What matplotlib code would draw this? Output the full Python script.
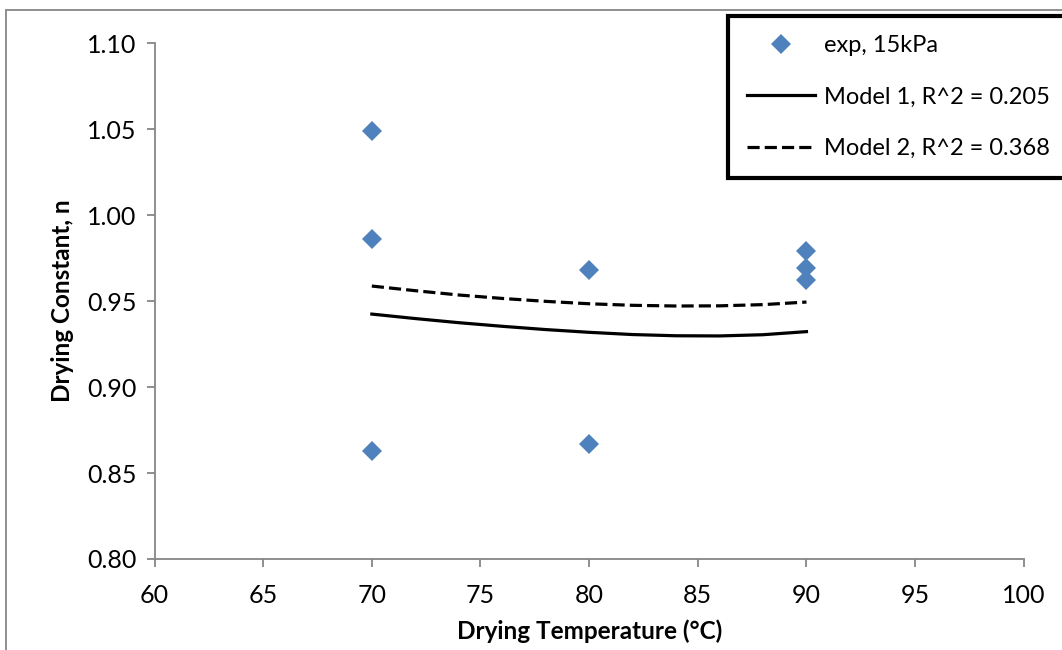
import matplotlib.pyplot as plt
from matplotlib.patches import Rectangle

plt.rcParams['font.family'] = ['Lato', 'DejaVu Sans']

# Datos experimentales (15 kPa)
temp_exp = [70, 70, 70, 80, 80, 90, 90, 90]
n_exp = [1.049, 0.986, 0.863, 0.968, 0.867, 0.979, 0.969, 0.962]

# Curvas de los modelos
temp_model = [70, 72, 74, 76, 78, 80, 82, 84, 86, 88, 90]
model1 = [0.9424, 0.9398, 0.9374, 0.9353, 0.9334, 0.9318, 0.9305, 0.9298, 0.9297, 0.9304, 0.9322]
model2 = [0.9587, 0.9560, 0.9535, 0.9515, 0.9498, 0.9484, 0.9475, 0.9471, 0.9472, 0.9479, 0.9494]

xticks = [60, 65, 70, 75, 80, 85, 90, 95, 100]
yticks = [0.80, 0.85, 0.90, 0.95, 1.00, 1.05, 1.10]

gris = '#868686'
azul = '#4F81BD'

fig = plt.figure(figsize=(10.62, 6.5), dpi=100)
ax = fig.add_axes([0.1455, 0.14, 0.8185, 0.7938])

ax.plot(temp_exp, n_exp, linestyle='none', marker='D', markersize=10,
        color=azul, markeredgewidth=0, label='exp, 15kPa')
ax.plot(temp_model, model1, color='black', lw=2.3, label='Model 1, R^2 = 0.205')
ax.plot(temp_model, model2, color='black', lw=2.3, linestyle=(0, (3.8, 1.6)),
        label='Model 2, R^2 = 0.368')

ax.set_xlim(60, 100)
ax.set_ylim(0.80, 1.10)
ax.set_xticks(xticks)
ax.set_yticks(yticks)
ax.set_xticklabels([str(t) for t in xticks])
ax.set_yticklabels([f'{t:.2f}' for t in yticks])

for s in ['top', 'right']:
    ax.spines[s].set_visible(False)
for s in ['left', 'bottom']:
    ax.spines[s].set_color(gris)
    ax.spines[s].set_linewidth(1.3)
ax.tick_params(direction='out', length=6, width=1.3, color=gris, labelsize=18)
ax.tick_params(axis='x', pad=12)
ax.tick_params(axis='y', pad=7)

ax.set_xlabel('Drying Temperature (°C)', fontsize=17.5, fontweight='bold', labelpad=9)
ax.set_ylabel('Drying Constant, n', fontsize=17.5, fontweight='bold', labelpad=9)

leg = ax.legend(loc='upper left', bbox_to_anchor=(728 / 1062, 1 - 16 / 650),
                bbox_transform=fig.transFigure, fontsize=17, frameon=True,
                fancybox=False, framealpha=1, handlelength=2.9, handletextpad=0.38,
                labelspacing=1.3, borderpad=0.8, borderaxespad=0)
leg.get_frame().set_edgecolor('black')
leg.get_frame().set_linewidth(3)

# borde del área del gráfico (recortado)
fig.add_artist(Rectangle((6 / 1062, -0.1), 1.2, 1 - 10 / 650 + 0.1,
                         transform=fig.transFigure, fill=False,
                         edgecolor=gris, lw=1.3))

fig.savefig('out.png', dpi=100)
